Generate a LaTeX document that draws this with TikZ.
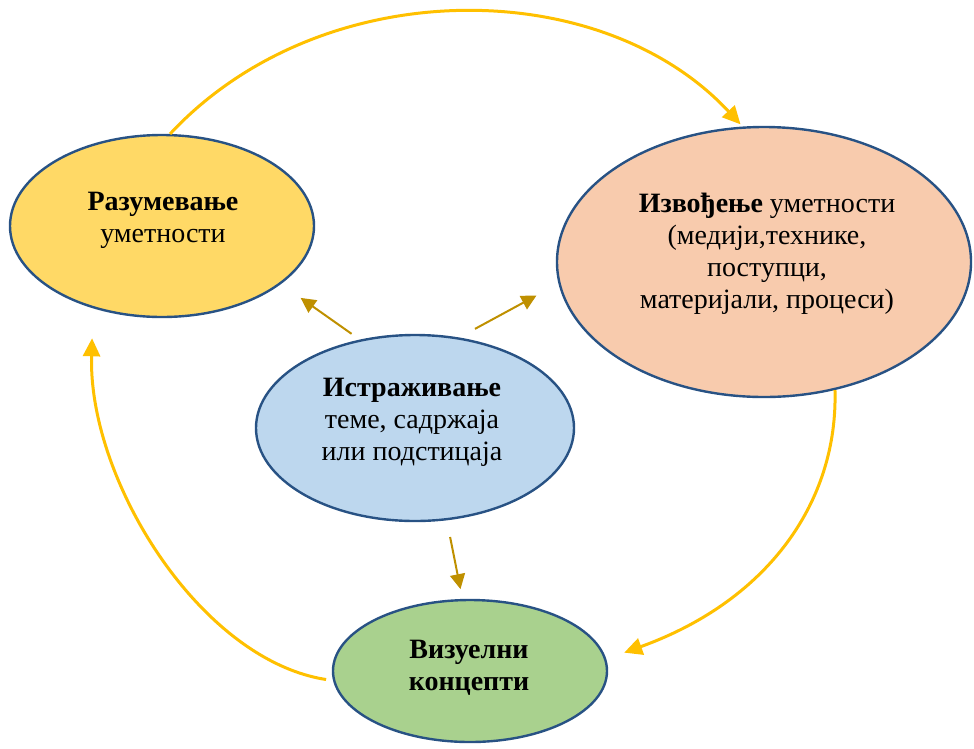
\documentclass[tikz,border=0pt]{standalone}
\usepackage{fontspec}
\setmainfont{Liberation Serif}
\usetikzlibrary{arrows.meta, shapes.geometric}

\definecolor{rimblue}{RGB}{40,82,132}
\definecolor{razfill}{RGB}{255,217,102}
\definecolor{izvfill}{RGB}{248,203,173}
\definecolor{istrfill}{RGB}{189,215,238}
\definecolor{vizfill}{RGB}{169,209,142}
\definecolor{cyclegold}{RGB}{255,192,0}
\definecolor{pointgold}{RGB}{191,144,0}

\begin{document}
\begin{tikzpicture}[x=1pt, y=-1pt,
        bubble/.style={ellipse, draw=rimblue, line width=2.4pt, inner sep=0pt},
        bubbletext/.style={align=center, inner sep=0pt, font=\fontsize{28}{32}\selectfont},
        cyclearrow/.style={draw=cyclegold, line width=3pt, -{Triangle[length=18pt, width=17pt]}},
        pointarrow/.style={draw=pointgold, line width=2pt, -{Triangle[length=15pt, width=15pt]}}]
        \useasboundingbox (0,0) rectangle (974,748);

        \node[bubble, fill=razfill, minimum width=304pt, minimum height=182pt] (raz) at (162,226) {};
        \node[bubble, fill=izvfill, minimum width=414pt, minimum height=270pt] (izv) at (764,262) {};
        \node[bubble, fill=istrfill, minimum width=318pt, minimum height=186pt] (istr) at (415,428) {};
        \node[bubble, fill=vizfill, minimum width=274pt, minimum height=142pt] (viz) at (470,671) {};

        \node[bubbletext] (razT) at (163,220) {\textbf{Разумевање}\\уметности};
        \node[bubbletext] (izvT) at (767,254) {\textbf{Извођење} уметности\\(медији,технике,\\поступци,\\материјали, процеси)};
        \node[bubbletext] (istrT) at (412,422) {\textbf{Истраживање}\\теме, садржаја\\или подстицаја};
        \node[bubbletext] (vizT) at (469,668) {\textbf{Визуелни}\\\textbf{концепти}};

        % the cycle round the outside
        \draw[cyclearrow, shorten >=3pt] (raz.85) .. controls (320,-27) and (600,-27) .. (izv.99);
        \draw[cyclearrow, shorten >=19pt] (izv.-61) .. controls (838,500) and (770,600) .. (viz.5);
        \draw[cyclearrow, shorten <=7pt, shorten >=30pt] (viz.184) .. controls (200,660) and (88,480) .. (raz.230);

        % from the centre outwards
        \draw[pointarrow, shorten <=10pt, shorten >=24pt] (istr.122) -- (raz.-26);
        \draw[pointarrow, shorten <=18pt, shorten >=25pt] (istr.64) -- (izv.186);
        \draw[pointarrow, shorten <=17pt, shorten >=10pt] (istr.-71) -- (viz.96);
    \end{tikzpicture}
\end{document}
